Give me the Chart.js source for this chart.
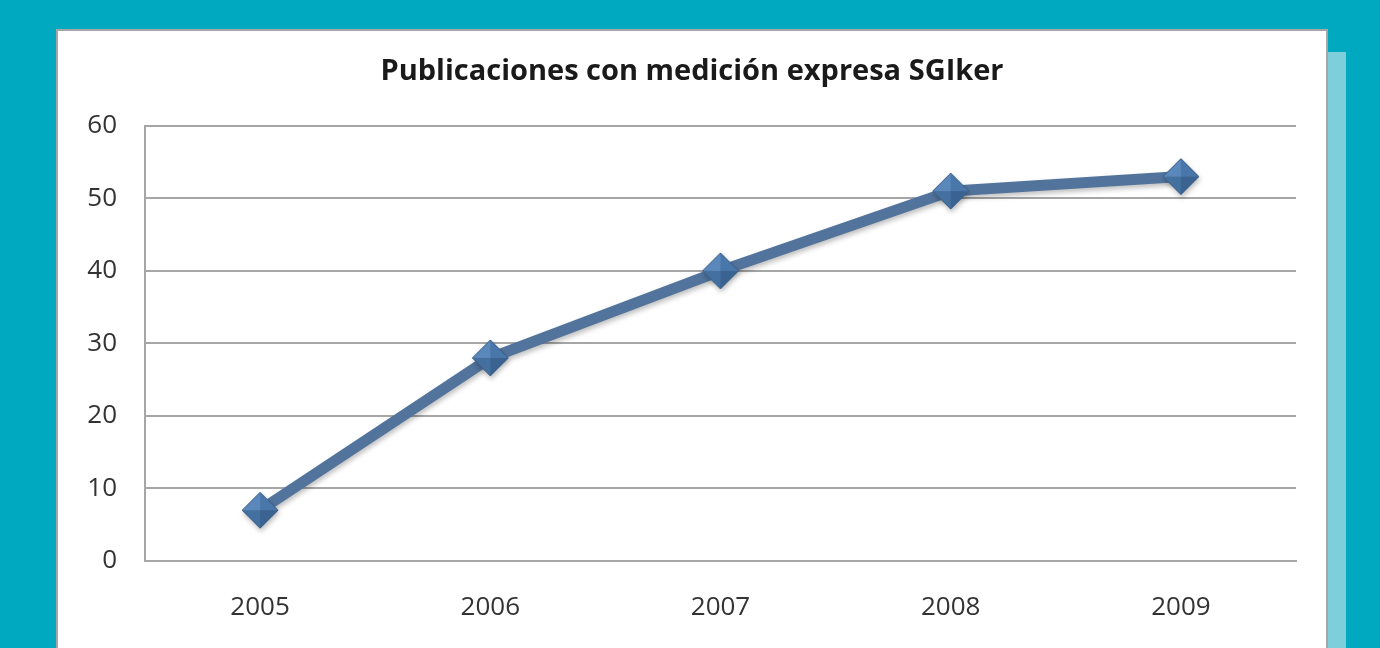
<!DOCTYPE html>
<html>
<head>
<meta charset="utf-8">
<script src="https://cdn.jsdelivr.net/npm/chart.js@4.4.1/dist/chart.umd.min.js"></script>
<style>
  html, body { margin: 0; padding: 0; }
  body { width: 1380px; height: 648px; background: #00a9bf; position: relative; overflow: hidden; }
  #strip { position: absolute; left: 1327px; top: 52px; width: 19px; height: 600px; background: #7ccfdb; }
  #box { position: absolute; left: 56px; top: 29px; width: 1268px; height: 640px; background: #fff; border: 2px solid #a6a6a6; }
  #chart { position: absolute; left: 0; top: 0; }
</style>
</head>
<body>
<div id="strip"></div>
<div id="box"><canvas id="chart" width="1268" height="619"></canvas></div>
<script>
// Data
const years = ['2005', '2006', '2007', '2008', '2009'];
const publicaciones = [7, 28, 40, 51, 53];
const yTicks = [0, 10, 20, 30, 40, 50, 60];

// Diamond marker with a bevelled look
function makeDiamond(size) {
  const c = document.createElement('canvas');
  c.width = size; c.height = size;
  const g = c.getContext('2d');
  const m = size / 2, r = size / 2 - 1;
  const facets = [
    [[m, m - r], [m - r, m], '#5b88bb'],
    [[m, m - r], [m + r, m], '#4a77aa'],
    [[m + r, m], [m, m + r], '#3b6392'],
    [[m, m + r], [m - r, m], '#44709f']
  ];
  facets.forEach(f => {
    g.beginPath();
    g.moveTo(m, m);
    g.lineTo(f[0][0], f[0][1]);
    g.lineTo(f[1][0], f[1][1]);
    g.closePath();
    g.fillStyle = f[2];
    g.fill();
  });
  g.beginPath();
  g.moveTo(m, m - r); g.lineTo(m + r, m); g.lineTo(m, m + r); g.lineTo(m - r, m); g.closePath();
  g.strokeStyle = '#3a5d86';
  g.lineWidth = 1;
  g.stroke();
  return c;
}
const diamond = makeDiamond(38);

const shadowPlugin = {
  id: 'lineShadow',
  beforeDatasetsDraw(chart) {
    const ctx = chart.ctx;
    ctx.save();
    ctx.shadowColor = 'rgba(0,0,0,0.25)';
    ctx.shadowBlur = 5;
    ctx.shadowOffsetX = 1;
    ctx.shadowOffsetY = 3;
  },
  afterDatasetsDraw(chart) {
    chart.ctx.restore();
  }
};

new Chart(document.getElementById('chart'), {
  type: 'line',
  data: {
    labels: years,
    datasets: [{
      data: publicaciones,
      borderColor: '#52749c',
      borderWidth: 11,
      pointStyle: diamond,
      pointRadius: 19,
      tension: 0
    }]
  },
  options: {
    responsive: false,
    animation: false,
    layout: { padding: 0 },
    plugins: {
      legend: { display: false },
      tooltip: { enabled: false },
      title: {
        display: true,
        text: 'Publicaciones con medición expresa SGIker',
        color: '#1a1a1a',
        font: { family: 'Open Sans', size: 29, weight: 'bold' },
        padding: { top: 23, bottom: 37 }
      }
    },
    scales: {
      x: {
        offset: true,
        grid: { display: false, drawTicks: false },
        border: { display: true, color: '#a6a6a6', width: 2 },
        ticks: { color: '#333', font: { family: 'Open Sans', size: 26 }, padding: 31 },
        afterFit(scale) { scale.height = 89; }
      },
      y: {
        min: 0,
        max: 60,
        afterBuildTicks(scale) { scale.ticks = yTicks.map(v => ({ value: v })); },
        grid: { color: '#a6a6a6', lineWidth: 2, drawTicks: false },
        border: { display: true, color: '#a6a6a6', width: 2 },
        ticks: { color: '#333', font: { family: 'Open Sans', size: 26 }, padding: 28 },
        afterFit(scale) { scale.width = 87; }
      },
      // empty right-hand spacer so the title stays centred on the box
      yRight: {
        position: 'right',
        min: 0,
        max: 60,
        grid: { display: false, drawTicks: false },
        border: { display: false },
        ticks: { display: false },
        afterFit(scale) { scale.width = 26; }
      }
    }
  },
  plugins: [shadowPlugin]
});
</script>
</body>
</html>
